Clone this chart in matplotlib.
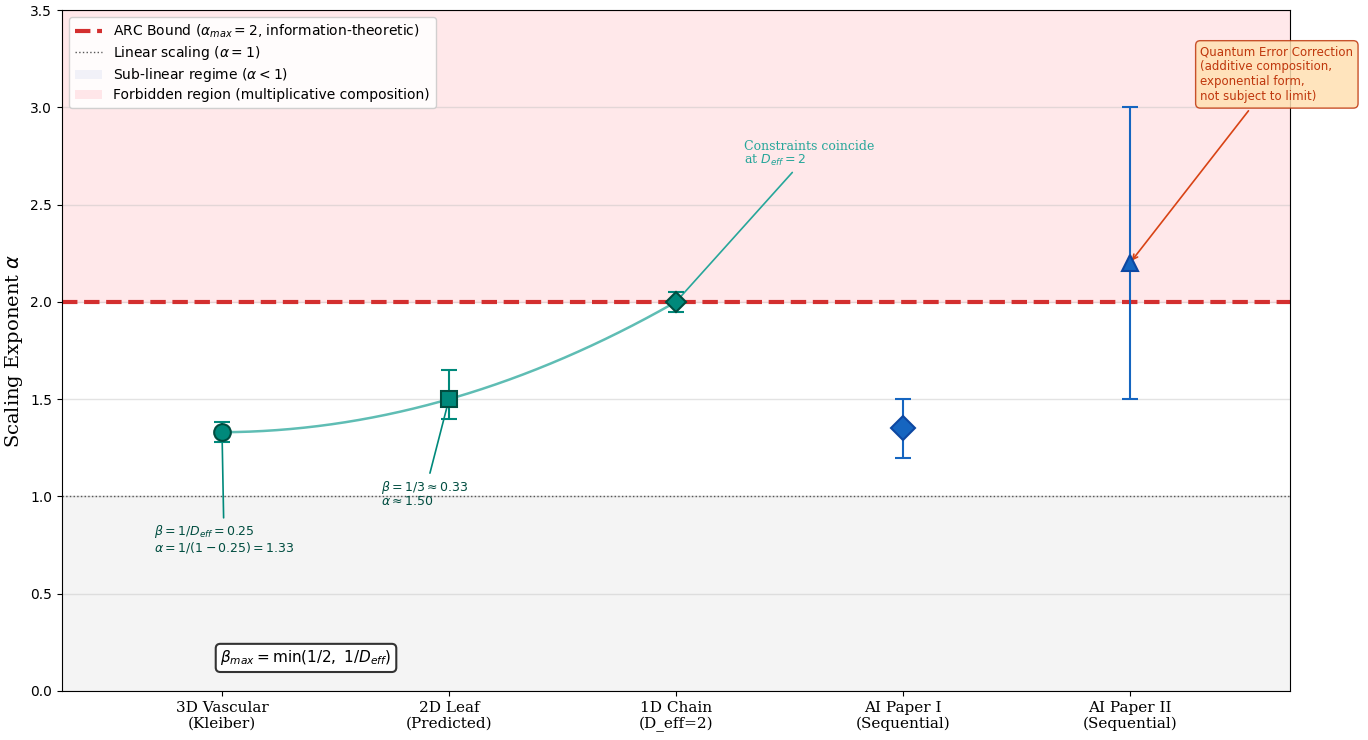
import numpy as np
import matplotlib
matplotlib.use("Agg")
import matplotlib.pyplot as plt
from matplotlib.patches import Patch
from matplotlib.lines import Line2D

# Systems and their scaling exponents
categories = ["3D Vascular\n(Kleiber)", "2D Leaf\n(Predicted)", "1D Chain\n(D_eff=2)",
              "AI Paper I\n(Sequential)", "AI Paper II\n(Sequential)"]
alpha_values = [1.33, 1.50, 2.00, 1.35, 2.20]
err_lower = [0.05, 0.10, 0.05, 0.15, 0.70]
err_upper = [0.05, 0.15, 0.05, 0.15, 0.80]
markers = ["o", "s", "D", "D", "^"]
face_colors = ["#00897B", "#00897B", "#00897B", "#1565C0", "#1565C0"]
edge_colors = ["#004D40", "#004D40", "#004D40", "#0D47A1", "#0D47A1"]
marker_sizes = [12, 11, 10, 12, 12]

alpha_max = 2.0
alpha_linear = 1.0

fig = plt.figure(figsize=(13.68, 7.40), dpi=100)
ax = fig.add_axes([62/1368, 1 - 691/740, (1290-62)/1368, (691-10)/740])

x = np.arange(len(categories))

# Regimes
ax.axhspan(0, alpha_linear, color="#EEEEEE", alpha=0.6, zorder=0)
ax.axhspan(alpha_max, 3.5, color="#FFCDD2", alpha=0.45, zorder=0)
ax.axhline(alpha_max, color="#D32F2F", ls="--", lw=3, zorder=2)
ax.axhline(alpha_linear, color="#555555", ls=":", lw=1, zorder=2)

# Quadratic trend through the biological systems
bio_x = x[:3]
bio_y = np.array(alpha_values[:3])
coef = np.polyfit(bio_x, bio_y, 2)
xs = np.linspace(bio_x[0], bio_x[-1], 200)
ax.plot(xs, np.polyval(coef, xs), color="#4DB6AC", lw=1.8, alpha=0.9, zorder=3)

for i in range(len(categories)):
    ax.errorbar(x[i], alpha_values[i], yerr=[[err_lower[i]], [err_upper[i]]],
                fmt=markers[i], color=face_colors[i], ecolor=face_colors[i],
                mfc=face_colors[i], mec=edge_colors[i], mew=1.5, ms=marker_sizes[i],
                capsize=6, capthick=1.5, elinewidth=1.5, zorder=5)

# Annotations
ax.annotate(r"$\beta = 1/D_{eff} = 0.25$" + "\n" + r"$\alpha = 1/(1-0.25) = 1.33$",
            xy=(x[0], alpha_values[0]), xytext=(-0.30, 0.70),
            fontsize=9, color="#004D40", ha="left", va="bottom", linespacing=0.95,
            arrowprops=dict(arrowstyle="-", color="#00897B", lw=1.2))
ax.annotate(r"$\beta = 1/3 \approx 0.33$" + "\n" + r"$\alpha \approx 1.50$",
            xy=(x[1], alpha_values[1]), xytext=(0.70, 0.94),
            fontsize=9, color="#004D40", ha="left", va="bottom", linespacing=0.95,
            arrowprops=dict(arrowstyle="-", color="#00897B", lw=1.2))
ax.annotate("Constraints coincide\n" + r"at $D_{eff} = 2$",
            xy=(x[2], alpha_values[2]), xytext=(2.30, 2.69),
            fontsize=9, color="#26A69A", family="serif", ha="left", va="bottom",
            linespacing=1.0,
            arrowprops=dict(arrowstyle="-", color="#26A69A", lw=1.2))
ax.annotate("Quantum Error Correction\n(additive composition,\nexponential form,\nnot subject to limit)",
            xy=(x[4], alpha_values[4]), xytext=(4.31, 3.02),
            fontsize=8.5, color="#BF360C", ha="left", va="bottom",
            bbox=dict(boxstyle="round,pad=0.4", fc="#FFE0B2", ec="#BF360C", alpha=0.85),
            arrowprops=dict(arrowstyle="->", color="#D84315", lw=1.2),
            annotation_clip=False)
ax.text(0.37, 0.17, r"$\beta_{max} = \min(1/2,\ 1/D_{eff})$", fontsize=11,
        ha="center", va="center",
        bbox=dict(boxstyle="round,pad=0.3", fc="white", ec="#333333", lw=1.5))

ax.set_xlim(-0.705, 4.705)
ax.set_ylim(0, 3.5)
ax.set_xticks(x)
ax.set_xticklabels(categories, family="serif", fontsize=11)
ax.set_yticks(np.arange(0, 3.51, 0.5))
ax.tick_params(axis="y", labelsize=10)
ax.set_ylabel(r"Scaling Exponent $\alpha$", family="serif", fontsize=14)
ax.grid(axis="y", color="#BBBBBB", alpha=0.4, lw=1)
ax.set_axisbelow(True)

handles = [
    Line2D([], [], color="#D32F2F", ls="--", lw=3),
    Line2D([], [], color="#555555", ls=":", lw=1),
    Patch(facecolor="#E8EAF6", alpha=0.6),
    Patch(facecolor="#FFCDD2", alpha=0.45),
]
labels = [r"ARC Bound ($\alpha_{max} = 2$, information-theoretic)",
          r"Linear scaling ($\alpha = 1$)",
          r"Sub-linear regime ($\alpha < 1$)",
          "Forbidden region (multiplicative composition)"]
ax.legend(handles, labels, loc="upper left", fontsize=10, framealpha=0.9,
          labelspacing=0.3)

fig.savefig("out.png", dpi=100)
